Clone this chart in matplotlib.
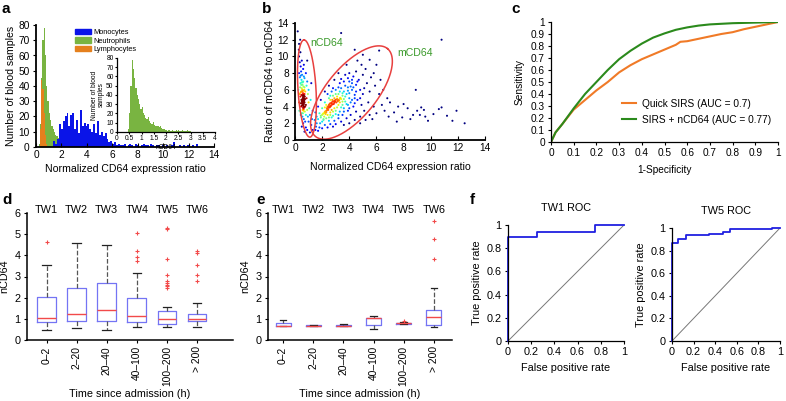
import numpy as np
import matplotlib.pyplot as plt
from matplotlib.patches import Patch

plt.rcParams['font.family'] = ['Liberation Sans', 'DejaVu Sans']
plt.rcParams['axes.linewidth'] = 0.9

W, H = 786, 401

# ---- data: panel a (histogram counts) ----
mono_start, mono_w = 1.35, 0.15
mono_counts = [4, 2, 5, 15, 12, 17, 20, 22, 14, 21, 22, 12, 18, 9, 24, 14, 16, 14, 15, 12,
               10, 15, 9, 17, 8, 10, 7, 9, 5, 3, 4, 2, 3, 1, 2, 1, 1, 2, 0, 1, 2, 1, 0,
               2, 1, 0, 1, 2, 1, 1, 0, 2, 1, 0, 1, 1, 0, 1, 0, 1, 0, 0, 1, 3, 0, 0, 1,
               0, 1, 0, 1, 0, 0, 1, 0, 2]
neut_start, neut_w = 0.2, 0.1
neut_counts = [2, 15, 45, 70, 78, 60, 40, 30, 22, 18, 14, 12, 10, 8, 7, 6, 5, 4, 3, 2,
               3, 2, 2, 1, 2, 1, 2, 1, 1]
lymph_start, lymph_w = 0.3, 0.1
lymph_counts = [12, 44, 38, 22, 8, 2]
inset_start, inset_w = 0.45, 0.05
inset_counts = [3, 20, 50, 78, 68, 58, 48, 40, 36, 30, 25, 27, 20, 18, 15, 14, 16, 12, 10,
                9, 11, 8, 7, 6, 7, 5, 6, 4, 3, 3, 2, 2, 1, 2, 1, 1, 2, 1, 1, 2, 1, 2, 1,
                1, 2, 1, 1, 1, 2, 1, 1]

# ---- data: panel b (scatter points) ----
b_pts = [
    (0.55, 4.2), (0.6, 4.5), (0.62, 4.8), (0.58, 5.0), (0.65, 4.3), (0.6, 3.9), (0.57, 4.6),
    (0.63, 5.2), (0.68, 4.7), (0.55, 4.9), (0.6, 5.4), (0.66, 4.0), (0.52, 4.4), (0.7, 4.5),
    (0.61, 4.1), (0.59, 5.6), (0.64, 3.7), (0.56, 3.6), (0.67, 5.0), (0.62, 4.4),
    (0.58, 4.3), (0.63, 4.6), (0.6, 5.1), (0.66, 4.9), (0.54, 4.7), (0.61, 3.8),
    (0.57, 4.4), (0.62, 4.7), (0.6, 4.25), (0.64, 4.55), (0.59, 4.85), (0.55, 5.3),
    (0.66, 5.3), (0.6, 5.9), (0.52, 5.8), (0.62, 3.5), (0.58, 3.2), (0.68, 3.9), (0.5, 4.1),
    (0.47, 4.8), (0.53, 6.0), (0.63, 6.4), (0.57, 6.9), (0.65, 7.6), (0.5, 6.9), (0.42, 7.7),
    (0.7, 5.5), (0.74, 4.9), (0.44, 4.4), (0.41, 5.7),
    (0.45, 5.8), (0.5, 6.2), (0.55, 6.6), (0.4, 5.2), (0.75, 5.8), (0.8, 4.2), (0.72, 3.4),
    (0.5, 3.2), (0.45, 4.0), (0.85, 5.0), (0.4, 6.8), (0.48, 7.2), (0.6, 7.0), (0.35, 5.5),
    (0.7, 6.3), (0.9, 3.6), (0.8, 3.0), (0.55, 2.8), (0.65, 2.5), (0.42, 3.0), (0.38, 6.3),
    (0.52, 7.8), (0.45, 8.2), (0.36, 7.5), (0.3, 8.0), (0.42, 8.8), (0.35, 9.3), (0.3, 10.0),
    (0.4, 10.5), (0.28, 10.8), (0.5, 9.5), (0.6, 8.5), (0.7, 7.4), (0.85, 6.5), (0.95, 5.5),
    (1.0, 4.5), (1.05, 3.8), (0.95, 2.8), (0.75, 2.2), (0.6, 2.0), (0.5, 1.6), (0.8, 1.5),
    (1.0, 2.2), (1.1, 3.0), (0.9, 1.2), (1.2, 1.8), (0.7, 1.0), (0.3, 4.5), (0.25, 6.0),
    (0.32, 3.5), (1.15, 4.8), (1.0, 6.0), (0.9, 7.0), (0.8, 8.0), (0.65, 9.0), (1.25, 2.5),
    (1.3, 1.2), (1.1, 0.9), (0.2, 13.0), (0.3, 11.5), (0.38, 12.0), (0.9, 9.5), (1.2, 6.8),
    (1.3, 3.5), (0.48, 5.4), (0.72, 5.2), (0.5, 4.6), (0.75, 4.0), (0.46, 6.6), (0.68, 6.0),
    (2.0, 3.0), (2.1, 3.2), (2.2, 3.4), (2.3, 3.5), (2.35, 3.8), (2.4, 4.0), (2.5, 4.2),
    (2.55, 3.9), (2.6, 4.4), (2.7, 4.5), (2.8, 4.6), (2.9, 4.7), (3.0, 4.8), (3.1, 4.9),
    (3.2, 4.8), (3.3, 5.0), (3.4, 4.9), (2.45, 3.6), (2.25, 3.1), (2.65, 4.1), (2.85, 4.3),
    (3.05, 4.5), (2.15, 2.8), (1.9, 2.7), (2.75, 4.8), (2.4, 3.7), (2.55, 4.3), (2.95, 4.6),
    (3.15, 4.7), (2.3, 3.3), (2.35, 3.55), (2.45, 3.85), (2.6, 4.0), (2.75, 4.25),
    (3.15, 4.65), (3.25, 4.75), (3.35, 5.05), (2.05, 3.1), (2.2, 3.25), (2.9, 4.45),
    (2.5, 4.05), (2.7, 4.35),
    (2.3, 4.2), (2.6, 4.8), (2.9, 5.0), (3.3, 5.8), (3.7, 5.2), (4.0, 5.6), (3.5, 4.6),
    (3.1, 3.9), (2.7, 3.6), (2.4, 3.0), (2.1, 2.4), (1.9, 2.9), (2.2, 3.9), (2.6, 3.0),
    (3.0, 3.5), (3.4, 3.9), (3.8, 4.3), (4.2, 4.8), (4.5, 5.8), (4.1, 6.4), (3.7, 6.5),
    (3.2, 6.3), (2.8, 6.2), (2.6, 5.3), (3.0, 5.5), (3.5, 5.6), (3.9, 5.9), (4.3, 6.3),
    (4.6, 7.0), (4.2, 7.2), (3.4, 7.3), (3.9, 7.4), (2.5, 2.7), (2.8, 2.9), (3.2, 3.0),
    (3.6, 3.4), (4.0, 3.8), (4.4, 4.4), (4.8, 5.0), (5.1, 6.2),
    (1.7, 2.5), (1.8, 3.2), (1.6, 2.0), (2.0, 3.8), (2.2, 4.5), (2.5, 5.0), (2.8, 5.3),
    (3.2, 5.5), (3.5, 5.3), (3.7, 4.6), (3.5, 4.2), (3.2, 4.2), (2.9, 3.8), (2.6, 3.3),
    (2.3, 2.6), (2.0, 2.2), (3.8, 5.5), (4.0, 5.0), (3.0, 6.0), (3.4, 6.2), (2.7, 5.8),
    (2.4, 5.5), (3.9, 6.3), (4.2, 6.0), (4.4, 5.4), (4.1, 4.5), (3.6, 3.8), (3.3, 3.4),
    (3.0, 3.1), (2.7, 2.7), (2.5, 2.3), (2.2, 1.8), (1.8, 1.5), (1.5, 1.2), (1.6, 2.8),
    (1.55, 1.6), (4.5, 6.6), (4.0, 7.0), (3.6, 7.0), (3.3, 6.8), (4.7, 7.2), (4.3, 7.6),
    (4.8, 6.0), (4.6, 4.8), (4.3, 4.0), (3.9, 3.5), (3.5, 3.0), (3.2, 2.6), (2.9, 2.3),
    (2.6, 1.9), (2.4, 1.5), (2.0, 1.4), (1.7, 1.1), (5.0, 7.8), (4.5, 8.2), (4.0, 8.0),
    (3.7, 7.8), (5.2, 8.5), (4.9, 9.0), (5.3, 6.8), (5.0, 5.5), (4.9, 4.2), (4.5, 3.4),
    (4.1, 3.0), (3.8, 2.6), (3.4, 2.2), (3.0, 1.9), (2.8, 1.6), (5.6, 7.5), (5.5, 9.6),
    (5.0, 10.2), (4.6, 9.5), (5.8, 8.0), (5.9, 6.5), (5.5, 5.8), (5.4, 4.5), (5.1, 3.5),
    (4.8, 2.8), (4.4, 2.4), (4.0, 2.0), (3.6, 1.8), (6.0, 9.0), (6.3, 7.2), (6.2, 5.5),
    (5.8, 4.0), (5.5, 3.0), (5.2, 2.4), (4.8, 2.0), (6.5, 6.0), (6.4, 4.2), (6.0, 3.2),
    (5.7, 2.5), (6.2, 10.7), (4.4, 10.8), (3.4, 12.8), (6.8, 5.0), (6.6, 3.5), (7.0, 4.5),
    (6.9, 2.8), (3.8, 9.0), (3.2, 8.0), (2.9, 7.2), (2.5, 6.5), (2.2, 5.8), (1.9, 4.8),
    (1.7, 4.0), (1.5, 3.3), (1.45, 2.4), (3.6, 5.8), (4.2, 6.8), (3.1, 5.2), (2.8, 3.4),
    (3.9, 4.2), (4.4, 5.0), (3.3, 4.5), (2.1, 2.5), (1.85, 2.0), (3.6, 4.9),
    (7.3, 3.3), (7.6, 4.0), (8.0, 4.3), (8.3, 3.8), (7.9, 2.7), (8.5, 2.5), (8.9, 6.0),
    (9.0, 3.5), (9.3, 3.9), (9.5, 3.6), (9.2, 3.0), (9.8, 2.3), (10.2, 3.1), (10.8, 12.0),
    (10.8, 3.9), (10.6, 3.7), (11.2, 2.9), (11.6, 2.3), (11.9, 3.5), (12.5, 2.0), (9.6, 2.8),
    (7.5, 2.2), (8.7, 3.0),
]

# ---- data: panel c (ROC curves) ----
qs_fpr = [0, 0.02, 0.05, 0.1, 0.15, 0.2, 0.25, 0.3, 0.35, 0.4, 0.45, 0.5, 0.55, 0.57,
          0.6, 0.65, 0.7, 0.75, 0.8, 0.85, 0.9, 0.95, 1.0]
qs_tpr = [0, 0.08, 0.15, 0.27, 0.35, 0.43, 0.5, 0.58, 0.64, 0.69, 0.73, 0.77, 0.81, 0.835,
          0.84, 0.86, 0.88, 0.9, 0.915, 0.94, 0.96, 0.98, 1.0]
sn_fpr = [0, 0.02, 0.05, 0.1, 0.15, 0.2, 0.25, 0.3, 0.35, 0.4, 0.45, 0.5, 0.55, 0.6,
          0.65, 0.7, 0.8, 0.9, 1.0]
sn_tpr = [0, 0.08, 0.15, 0.28, 0.4, 0.5, 0.6, 0.69, 0.76, 0.82, 0.87, 0.905, 0.935, 0.955,
          0.97, 0.98, 0.99, 0.995, 1.0]

# ---- data: panels d, e (box statistics) ----
tw_names = ['TW1', 'TW2', 'TW3', 'TW4', 'TW5', 'TW6']
tw_ticks = ['0\u20132', '2\u201320', '20\u201340', '40\u2013100', '100\u2013200', '> 200']
d_q1 = [0.85, 0.92, 0.92, 0.85, 0.75, 0.88]
d_med = [1.05, 1.22, 1.42, 1.12, 1.0, 1.0]
d_q3 = [2.05, 2.48, 2.7, 2.0, 1.38, 1.25]
d_lo = [0.45, 0.55, 0.45, 0.6, 0.6, 0.62]
d_hi = [3.55, 4.6, 4.5, 3.15, 1.55, 1.75]
d_fliers = [[4.65], [], [], [3.72, 3.93, 4.2, 5.05],
            [2.48, 2.55, 2.62, 2.7, 2.78, 3.05, 3.85, 5.25, 5.3],
            [2.78, 3.05, 3.55, 4.1, 4.22]]
e_q1 = [0.65, 0.66, 0.66, 0.71, 0.76, 0.72]
e_med = [0.68, 0.67, 0.68, 1.02, 0.79, 1.09]
e_q3 = [0.8, 0.69, 0.73, 1.05, 0.81, 1.42]
e_lo = [0.64, 0.65, 0.64, 0.52, 0.74, 0.63]
e_hi = [0.95, 0.7, 0.76, 1.15, 0.83, 2.47]
e_fliers = [[], [], [], [], [0.9], [3.82, 4.77, 5.62]]

# ---- data: panel f (step ROC) ----
tw1_fpr = [0, 0, 0.25, 0.25, 0.75, 0.75, 1.0]
tw1_tpr = [0, 0.9, 0.9, 0.94, 0.94, 1.0, 1.0]
tw5_fpr = [0, 0, 0.06, 0.06, 0.13, 0.13, 0.34, 0.34, 0.47, 0.47, 0.54, 0.54, 0.93, 0.93, 1.0]
tw5_tpr = [0, 0.87, 0.87, 0.9, 0.9, 0.94, 0.94, 0.95, 0.95, 0.967, 0.967, 0.99, 0.99, 1.0, 1.0]

FS = 7.8


def rect(x0, y0, x1, y1):
    return [x0 / W, 1 - y1 / H, (x1 - x0) / W, (y1 - y0) / H]


def clean(ax, fs=7.3):
    ax.spines['top'].set_visible(False)
    ax.spines['right'].set_visible(False)
    ax.tick_params(labelsize=fs, length=2.5, width=0.8, pad=2)


def fmt(v):
    return ('%g' % v)


fig = plt.figure(figsize=(W / 100, H / 100), dpi=100)

c_mono, c_neut, c_lymph = '#0a14e8', '#79b441', '#e5801d'

# ---------------- panel a ----------------
ax = fig.add_axes(rect(36, 25, 214, 147))
clean(ax)
ax.stairs(neut_counts, neut_start + neut_w * np.arange(len(neut_counts) + 1),
          fill=True, color=c_neut)
ax.stairs(lymph_counts, lymph_start + lymph_w * np.arange(len(lymph_counts) + 1),
          fill=True, color=c_lymph)
ax.stairs(mono_counts, mono_start + mono_w * np.arange(len(mono_counts) + 1),
          fill=True, color=c_mono)
ax.set_xlim(0, 14)
ax.set_ylim(0, 80)
ax.set_xticks(range(0, 15, 2))
ax.set_yticks(range(0, 81, 10))
ax.spines['left'].set_linewidth(1.3)
ax.spines['bottom'].set_linewidth(1.3)
ax.tick_params(axis='x', direction='in', length=3)
ax.set_xlabel('Normalized CD64 expression ratio', fontsize=7.6, labelpad=3)
ax.set_ylabel('Number of blood samples', fontsize=7.6, labelpad=2)
ax.legend(handles=[Patch(color=c_mono, label='Monocytes'),
                   Patch(color=c_neut, label='Neutrophils'),
                   Patch(color=c_lymph, label='Lymphocytes')],
          loc='upper left', bbox_to_anchor=(0.2, 1.0), frameon=False, fontsize=5.3,
          handlelength=2.2, handleheight=0.8, handletextpad=0.3, labelspacing=0.15,
          borderpad=0)

ins = fig.add_axes(rect(117, 58, 215, 132))
ins.patch.set_alpha(0)
clean(ins, fs=4.8)
ins.stairs(inset_counts, inset_start + inset_w * np.arange(len(inset_counts) + 1),
           fill=True, color=c_neut)
ins.set_xlim(0, 4)
ins.set_ylim(0, 80)
ins.set_xticks(np.arange(0, 4.01, 0.5))
ins.set_xticklabels([fmt(v) for v in np.arange(0, 4.01, 0.5)])
ins.set_yticks(range(0, 81, 10))
ins.tick_params(length=1.5, pad=1)
ins.set_xlabel('nCD64', fontsize=4.8, labelpad=1)
ins.set_ylabel('Number of blood\nsamples', fontsize=4.8, labelpad=1, linespacing=0.9)

# ---------------- panel b ----------------
ax = fig.add_axes(rect(295, 23, 485, 140))
clean(ax)
bx = np.array([p[0] for p in b_pts])
by = np.array([p[1] for p in b_pts])
sx = 190 / 14
sy = 117 / 14
pp = np.c_[bx * sx, by * sy]
d2 = ((pp[:, None, :] - pp[None, :, :]) ** 2).sum(-1)
dens = np.exp(-d2 / (2 * 4.5 ** 2)).sum(1)
dens = dens / dens.max()
order = np.argsort(dens)
ax.scatter(bx[order], by[order], c=dens[order], cmap='jet', s=2.2, marker='o', lw=0,
           vmin=0.08, vmax=0.8)


def ellipse(cx, cy, a, b, ang):
    t = np.linspace(0, 2 * np.pi, 200)
    th = np.deg2rad(ang)
    px = a * np.cos(t) * np.cos(th) - b * np.sin(t) * np.sin(th)
    py = a * np.cos(t) * np.sin(th) + b * np.sin(t) * np.cos(th)
    ax.plot(cx + px / sx, cy + py / sy, color='#e8403f', lw=1.1)


ellipse(0.88, 6.16, 48.7, 9.0, 93.5)
ellipse(4.16, 5.68, 56.8, 25, 50.6)
ax.text(1.1, 11.6, 'nCD64', color='#3a9a2a', fontsize=7.6, va='center')
ax.text(7.5, 10.4, 'mCD64', color='#3a9a2a', fontsize=7.6, va='center')
ax.set_xlim(0, 14)
ax.set_ylim(0, 14)
ax.set_xticks(range(0, 15, 2))
ax.set_yticks(range(0, 15, 2))
ax.spines['left'].set_linewidth(1.3)
ax.spines['bottom'].set_linewidth(1.3)
ax.tick_params(axis='x', direction='in', length=3)
ax.set_xlabel('Normalized CD64 expression ratio', fontsize=7.6, labelpad=7)
ax.set_ylabel('Ratio of mCD64 to nCD64', fontsize=7.6, labelpad=2)

# ---------------- panel c ----------------
ax = fig.add_axes(rect(551, 22, 778, 142))
clean(ax)
ax.plot(qs_fpr, qs_tpr, color='#f07a27', lw=1.5, label='Quick SIRS (AUC = 0.7)')
ax.plot(sn_fpr, sn_tpr, color='#2b8a1c', lw=1.5, label='SIRS + nCD64 (AUC = 0.77)')
ax.set_xlim(0, 1)
ax.set_ylim(0, 1)
ticks = np.round(np.arange(0, 1.01, 0.1), 1)
ax.set_xticks(ticks)
ax.set_xticklabels([fmt(v) for v in ticks])
ax.set_yticks(ticks)
ax.set_yticklabels([fmt(v) for v in ticks])
ax.set_xlabel('1-Specificity', fontsize=7.3, labelpad=5)
ax.set_ylabel('Sensitivity', fontsize=7.3, labelpad=4)
ax.legend(loc='lower left', bbox_to_anchor=(0.29, 0.1), frameon=False, fontsize=7.3,
          handlelength=1.4, handletextpad=0.6, labelspacing=0.6, borderpad=0)


# ---------------- panels d, e ----------------
def boxpanel(r, q1, med, q3, lo, hi, fl, xlim, width):
    ax = fig.add_axes(r)
    clean(ax, fs=FS)
    stats = [dict(q1=q1[i], med=med[i], q3=q3[i], whislo=lo[i], whishi=hi[i], fliers=fl[i])
             for i in range(6)]
    ax.bxp(stats, positions=range(1, 7), widths=width,
           boxprops=dict(color='#7474f4', lw=0.9),
           medianprops=dict(color='#f24a4a', lw=1.0),
           whiskerprops=dict(color='#555555', ls='--', lw=0.9),
           capprops=dict(color='#222222', lw=0.9), capwidths=width * 0.45,
           flierprops=dict(marker='+', markeredgecolor='#f24a4a', markersize=3.5, mew=0.8))
    for i, n in enumerate(tw_names):
        ax.text(i + 1, 6.13, n, ha='center', va='center', fontsize=FS, clip_on=False)
    ax.set_xlim(*xlim)
    ax.set_ylim(0, 6)
    ax.set_yticks(range(0, 7))
    ax.set_xticks(range(1, 7))
    ax.set_xticklabels(tw_ticks, rotation=90, fontsize=7.4)
    ax.spines['left'].set_linewidth(1.1)
    ax.spines['bottom'].set_linewidth(1.1)
    ax.set_ylabel('nCD64', fontsize=FS, labelpad=4)
    ax.set_xlabel('Time since admission (h)', fontsize=FS, labelpad=2)
    return ax


boxpanel(rect(27, 213, 233, 340), d_q1, d_med, d_q3, d_lo, d_hi, d_fliers, (0.35, 7.2), 0.62)
boxpanel(rect(268, 213, 452, 340), e_q1, e_med, e_q3, e_lo, e_hi, e_fliers, (0.5, 6.6), 0.5)


# ---------------- panel f ----------------
def rocpanel(r, fpr, tpr, title):
    ax = fig.add_axes(r)
    clean(ax, fs=FS)
    ax.plot([0, 1], [0, 1], color='#777777', lw=0.7)
    ax.plot(fpr, tpr, color='#2020e0', lw=1.3, clip_on=False)
    ax.set_xlim(0, 1)
    ax.set_ylim(0, 1)
    tk = np.round(np.arange(0, 1.01, 0.2), 1)
    ax.set_xticks(tk)
    ax.set_xticklabels([fmt(v) for v in tk])
    ax.set_yticks(tk)
    ax.set_yticklabels([fmt(v) for v in tk])
    ax.set_xlabel('False positive rate', fontsize=FS, labelpad=4)
    ax.set_ylabel('True positive rate', fontsize=FS, labelpad=3)
    ax.set_title(title, fontsize=FS, pad=10)


rocpanel(rect(508, 225, 624, 341), tw1_fpr, tw1_tpr, 'TW1 ROC')
rocpanel(rect(672, 228, 780, 341), tw5_fpr, tw5_tpr, 'TW5 ROC')

# panel letters
for lab, x, y in [('a', 2, 2), ('b', 262, 2), ('c', 511, 2),
                  ('d', 2, 193), ('e', 256, 193), ('f', 470, 193)]:
    fig.text(x / W, 1 - y / H, lab, fontsize=11, fontweight='bold', va='top', ha='left')

fig.savefig('out.png', dpi=100)
